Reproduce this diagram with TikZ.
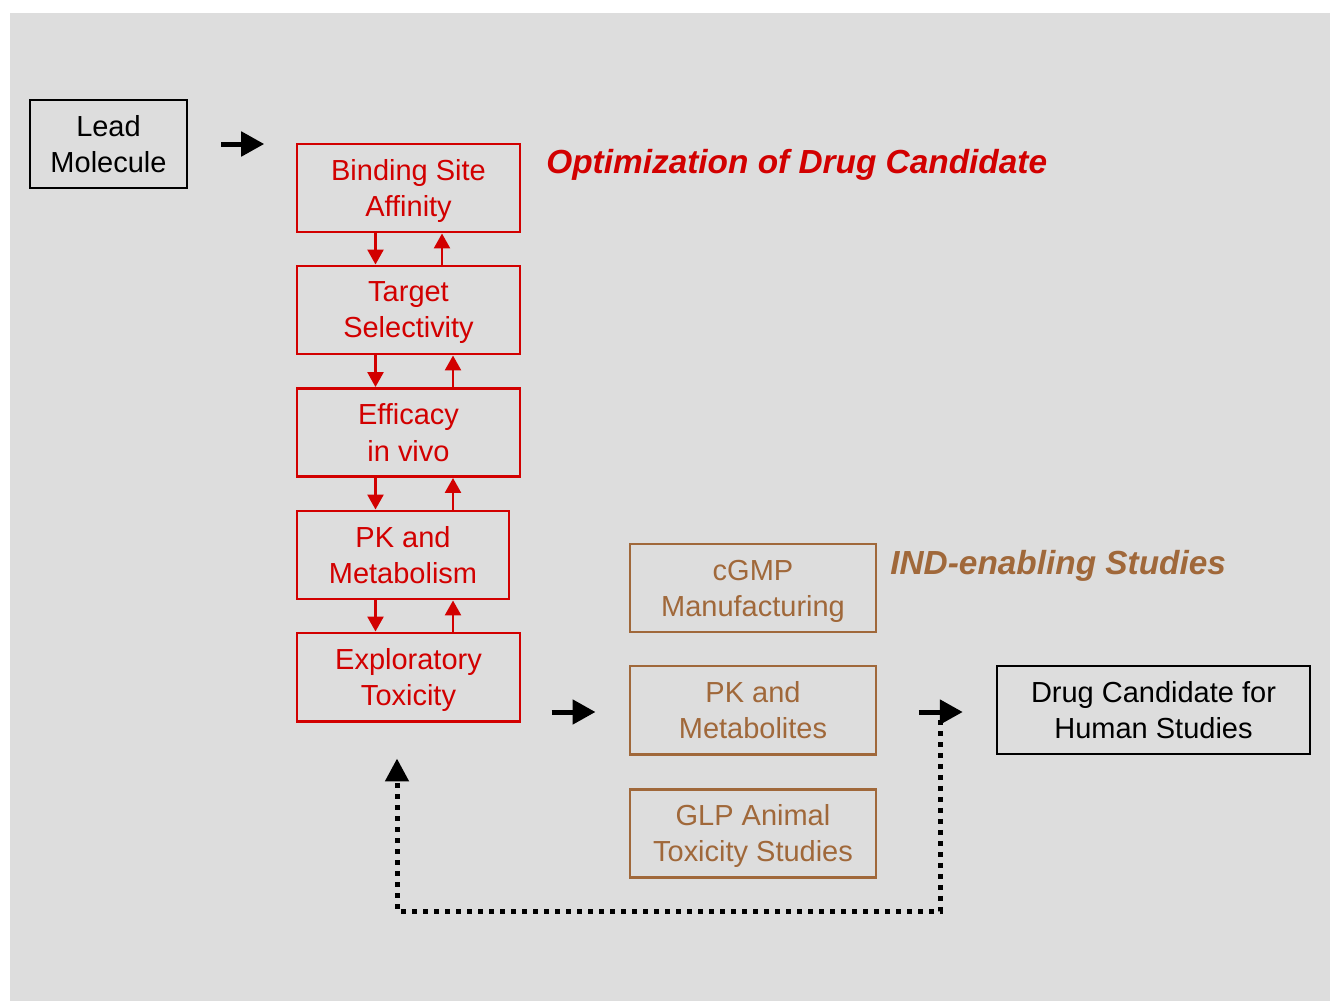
\documentclass[tikz,border=0pt]{standalone}
\usepackage{fontspec}
\setmainfont{Liberation Sans}
\usetikzlibrary{arrows.meta,calc}
\definecolor{bggray}{RGB}{221,221,221}
\definecolor{optred}{RGB}{210,0,0}
\definecolor{indbrown}{RGB}{160,104,58}
\begin{document}
\begin{tikzpicture}
	[x=0.02cm,y=-0.02cm,
	every node/.style={font=\fontsize{16.5pt}{20.5pt}\selectfont,align=center,inner sep=0pt},
	blackbox/.style={draw=black,line width=1.4pt,text depth=-0.08cm,minimum height=88*0.02cm},
	optbox/.style={draw=optred,text=optred,line width=1.7pt,text depth=-0.08cm,minimum height=88*0.02cm},
	indbox/.style={draw=indbrown,text=indbrown,line width=1.7pt,text depth=-0.08cm,minimum width=246*0.02cm,minimum height=88*0.02cm},
	bigarrow/.style={line width=0.1cm,-{Triangle[length=0.46cm,width=0.48cm]}},
	redarrow/.style={optred,line width=1.5pt,-{Triangle[length=0.3cm,width=0.32cm]}},
	loopback/.style={line width=0.1cm,dash pattern=on 0.1cm off 0.12cm,-{Triangle[length=0.46cm,width=0.46cm]}}]
	\useasboundingbox (0,0) rectangle (1330,1001);
	\fill[bggray] (10,13) rectangle (1330,1001);
	% lead and optimization steps
	\node[blackbox,minimum width=157*0.02cm] (lead) at (108.5,144) {Lead\\Molecule};
	\node[optbox,minimum width=223*0.02cm] (bind) at (408.5,188) {Binding Site\\Affinity};
	\node[optbox,minimum width=223*0.02cm] (target) at (408.5,310) {Target\\Selectivity};
	\node[optbox,minimum width=223*0.02cm] (effic) at (408.5,432.5) {Efficacy\\in vivo};
	\node[optbox,minimum width=212*0.02cm] (pkmetab) at (403,555) {PK and\\Metabolism};
	\node[optbox,minimum width=223*0.02cm] (explor) at (408.5,677) {Exploratory\\Toxicity};
	\node[anchor=west,text=optred,font=\fontsize{19pt}{23pt}\selectfont\bfseries\itshape] (opttitle) at (546,165) {Optimization of Drug Candidate};
	% IND-enabling studies
	\node[indbox] (cgmp) at (753,588) {cGMP\\Manufacturing};
	\node[indbox] (pkmet) at (753,710) {PK and\\Metabolites};
	\node[indbox] (glp) at (753,833) {GLP Animal\\Toxicity Studies};
	\node[anchor=west,text=indbrown,font=\fontsize{19pt}{23pt}\selectfont\bfseries\itshape] (indtitle) at (890,566) {IND-enabling Studies};
	\node[blackbox,minimum width=313*0.02cm] (drug) at (1153.5,710) {Drug Candidate for\\Human Studies};
	% free ends of the arrows
	\coordinate (a1s) at ($(lead.east)+(33,0)$);
	\coordinate (a1e) at ($(lead.east)+(76,0)$);
	\coordinate (a2s) at ($(pkmet.west)+(-77,2)$);
	\coordinate (a2e) at ($(pkmet.west)+(-33,2)$);
	\coordinate (a3s) at ($(drug.west)+(-77,2)$);
	\coordinate (a3e) at ($(drug.west)+(-33,2)$);
	\coordinate (fbtop) at ($(drug.west)+(-55,2)$);
	\coordinate (fbend) at ($(explor.south)+(-11.5,36)$);
	\path[bigarrow]
	(a1s) edge (a1e)
	(a2s) edge (a2e)
	(a3s) edge (a3e);
	\path[redarrow]
	([xshift=-33*0.02cm]bind.south) edge ([xshift=-33*0.02cm]bind.south |- target.north)
	([xshift=33.5*0.02cm]bind.south |- target.north) edge ([xshift=33.5*0.02cm]bind.south)
	([xshift=-33*0.02cm]target.south) edge ([xshift=-33*0.02cm]target.south |- effic.north)
	([xshift=44.5*0.02cm]target.south |- effic.north) edge ([xshift=44.5*0.02cm]target.south)
	([xshift=-33*0.02cm]effic.south) edge ([xshift=-33*0.02cm]effic.south |- pkmetab.north)
	([xshift=44.5*0.02cm]effic.south |- pkmetab.north) edge ([xshift=44.5*0.02cm]effic.south)
	([xshift=-33*0.02cm]explor.north |- pkmetab.south) edge ([xshift=-33*0.02cm]explor.north)
	([xshift=44.5*0.02cm]explor.north) edge ([xshift=44.5*0.02cm]explor.north |- pkmetab.south);
	\draw[loopback] ([yshift=-8*0.02cm]fbtop) |- (fbend |- 0,911) -- (fbend);
\end{tikzpicture}
\end{document}
